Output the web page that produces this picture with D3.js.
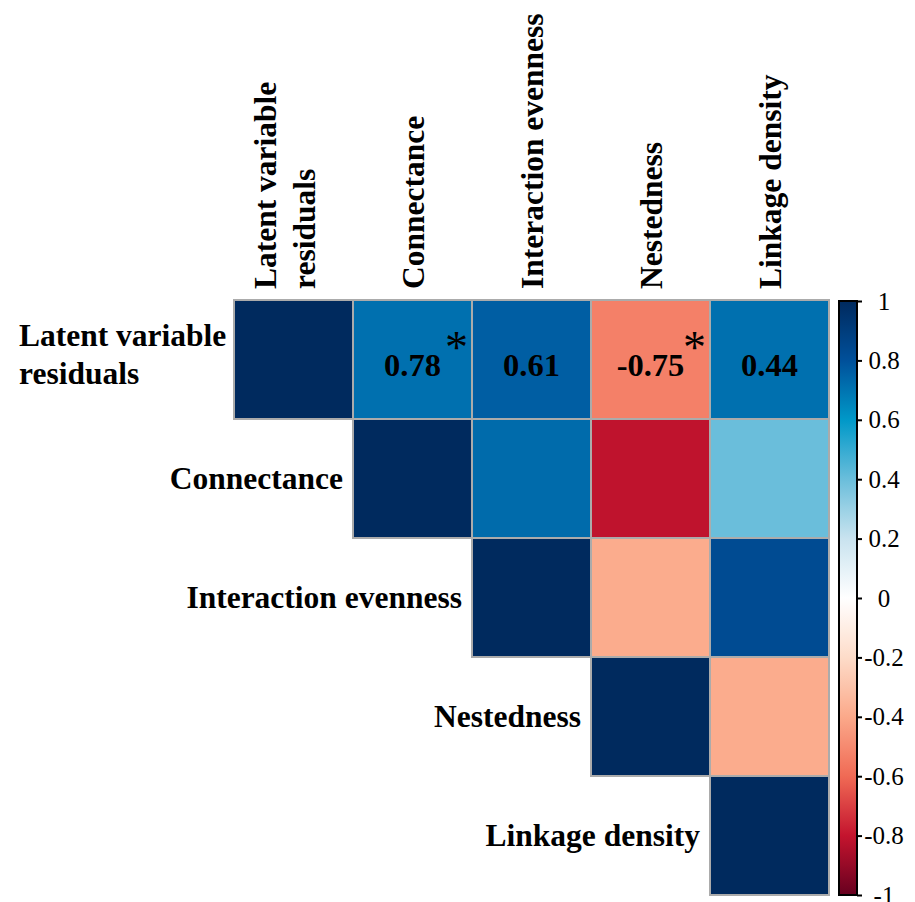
<!DOCTYPE html>
<html>
<head>
<meta charset="utf-8">
<script src="https://cdn.jsdelivr.net/npm/d3@7"></script>
<style>
  body { margin: 0; background: #fff; }
  text { font-family: "Liberation Serif", "Times New Roman", serif; }
</style>
</head>
<body>
<div id="chart"></div>
<script>
// variables (rows and columns of the matrix)
const vars = ['Latent variable residuals', 'Connectance', 'Interaction evenness', 'Nestedness', 'Linkage density'];
const rowLines = [['Latent variable', 'residuals'], ['Connectance'], ['Interaction evenness'], ['Nestedness'], ['Linkage density']];

// colour value of each upper-triangle cell (row i, col j >= i), read from the fills
const fillRow0 = [1, 0.71, 0.76, -0.53, 0.71];
const fillRow1 = [1, 0.725, -0.81, 0.40];
const fillRow2 = [1, -0.39, 0.826];
const fillRow3 = [1, -0.39];
const fillRow4 = [1];

// printed coefficients and significance stars (first row only)
const printed = [null, 0.78, 0.61, -0.75, 0.44];
const stars = [false, true, false, true, false];

// colour bar
const barTicks = [1, 0.8, 0.6, 0.4, 0.2, 0, -0.2, -0.4, -0.6, -0.8, -1];
const stopValues = [1, 0.8, 0.6, 0.4, 0.2, 0, -0.2, -0.4, -0.6, -0.8, -1];
const stopColours = ['#002a5e', '#00509a', '#0098c8', '#6abedb', '#c9e3ef', '#ffffff',
                     '#fddcc9', '#fba98a', '#f06a55', '#c4142e', '#67001f'];

const w = 915, h = 902;
const fs = 31.5;
const svg = d3.select('#chart').append('svg').attr('width', w).attr('height', h);

const color = d3.scaleLinear().domain(stopValues).range(stopColours).interpolate(d3.interpolateRgb);

const x = d3.scaleBand().domain(vars).range([234, 829]);
const y = d3.scaleBand().domain(vars).range([300, 895]);
const bw = x.bandwidth();

const fills = [fillRow0, fillRow1, fillRow2, fillRow3, fillRow4];
const cells = [];
fills.forEach((row, i) => row.forEach((v, k) => cells.push({ r: vars[i], c: vars[i + k], v: v })));

svg.selectAll('rect.cell')
  .data(cells)
  .enter()
  .append('rect')
  .attr('class', 'cell')
  .attr('x', d => x(d.c))
  .attr('y', d => y(d.r))
  .attr('width', bw)
  .attr('height', bw)
  .attr('fill', d => color(d.v))
  .attr('stroke', '#ababab')
  .attr('stroke-width', 2)

// coefficients in the first row
const nums = printed.map((p, j) => ({ p: p, s: stars[j], c: vars[j] })).filter(d => d.p !== null);
svg.selectAll('text.num')
  .data(nums)
  .enter()
  .append('text')
  .attr('class', 'num')
  .attr('x', d => x(d.c) + bw / 2)
  .attr('y', y(vars[0]) + bw / 2 + 16)
  .attr('text-anchor', 'middle')
  .attr('font-weight', 'bold')
  .attr('font-size', 32.5)
  .text(d => d.p.toFixed(2))

svg.selectAll('text.star')
  .data(nums.filter(d => d.s))
  .enter()
  .append('text')
  .attr('class', 'star')
  .attr('x', d => x(d.c) + bw / 2 + 44)
  .attr('y', y(vars[0]) + bw / 2 + 3)
  .attr('text-anchor', 'middle')
  .attr('font-size', 46)
  .text('*')

// row labels
vars.forEach((v, i) => {
  const lines = rowLines[i];
  if (lines.length > 1) {
    lines.forEach((t, k) => {
      svg.append('text')
        .attr('x', 19)
        .attr('y', 346 + k * 38)
        .attr('font-weight', 'bold')
        .attr('font-size', fs)
        .text(t)
    })
  } else {
    svg.append('text')
      .attr('x', x(v) - 10)
      .attr('y', y(v) + bw / 2 + 10)
      .attr('text-anchor', 'end')
      .attr('font-weight', 'bold')
      .attr('font-size', fs)
      .text(lines[0])
  }
})

// column labels (rotated)
vars.forEach((v, i) => {
  const lines = rowLines[i];
  const cx = x(v) + bw / 2;
  const offs = lines.length > 1 ? [-17.5, 21.5] : [11.5];
  lines.forEach((t, k) => {
    svg.append('text')
      .attr('transform', 'translate(' + (cx + offs[k]) + ',289) rotate(-90)')
      .attr('font-weight', 'bold')
      .attr('font-size', fs)
      .text(t)
  })
})

// colour bar
const barX = 839, barW = 18;
const barScale = d3.scaleLinear().domain([-1, 1]).range([895, 301]);
const grad = svg.append('defs').append('linearGradient')
  .attr('id', 'cbar').attr('x1', 0).attr('y1', 1).attr('x2', 0).attr('y2', 0);
grad.selectAll('stop')
  .data(d3.range(-1, 1.0001, 0.05))
  .enter()
  .append('stop')
  .attr('offset', d => (d + 1) / 2)
  .attr('stop-color', d => color(d))

svg.append('rect')
  .attr('x', barX)
  .attr('y', 301)
  .attr('width', barW)
  .attr('height', 594)
  .attr('fill', 'url(#cbar)')
  .attr('stroke', '#000')
  .attr('stroke-width', 2)

const barAxis = d3.axisRight(barScale).tickValues(barTicks).tickSize(5)
  .tickFormat(d => d === 0 ? '0' : d3.format('.1~f')(d).replace('\u2212', '-'));
const ga = svg.append('g')
  .attr('transform', 'translate(' + (barX + barW) + ',0)')
  .call(barAxis)
ga.select('.domain').remove();
ga.selectAll('line').attr('stroke', '#000').attr('stroke-width', 2);
ga.selectAll('text')
  .attr('x', 27)
  .attr('text-anchor', 'middle')
  .attr('font-family', '"Liberation Serif", serif')
  .attr('font-size', 25)
  .attr('fill', '#000')
</script>
</body>
</html>
